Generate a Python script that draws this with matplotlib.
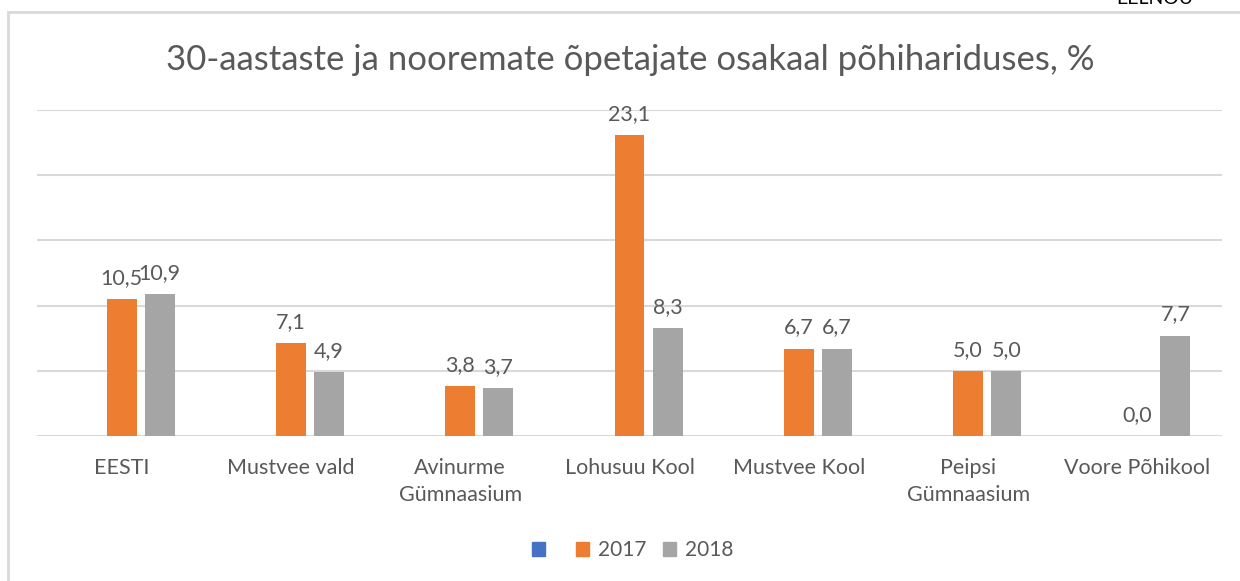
import numpy as np
import matplotlib.pyplot as plt
from matplotlib.patches import Rectangle, Patch

plt.rcParams['font.family'] = ['Lato', 'DejaVu Sans']

categories = ['EESTI', 'Mustvee vald', 'Avinurme\nGümnaasium', 'Lohusuu Kool',
              'Mustvee Kool', 'Peipsi\nGümnaasium', 'Voore Põhikool']
series_names = [' ', '2017', '2018']
vals_2017 = [10.5, 7.1, 3.8, 23.1, 6.7, 5.0, 0.0]
vals_2018 = [10.9, 4.9, 3.7, 8.3, 6.7, 5.0, 7.7]
colors = ['#4472C4', '#ED7D31', '#A5A5A5']
text_col = '#595959'

fig = plt.figure(figsize=(12.4, 5.81), dpi=100)
ax = fig.add_axes([37 / 1240, 1 - 436 / 581, (1222 - 37) / 1240, (436 - 110) / 581])

x = np.arange(len(categories))
w = 0.177
step = 0.225

b1 = ax.bar(x, vals_2017, w, color=colors[1], zorder=3)
b2 = ax.bar(x + step, vals_2018, w, color=colors[2], zorder=3)

for bars, vals in [(b1, vals_2017), (b2, vals_2018)]:
    for r, v in zip(bars, vals):
        ax.text(r.get_x() + r.get_width() / 2, v + 0.85, f'{v:.1f}'.replace('.', ','),
                ha='center', va='bottom', fontsize=15.5, color=text_col, zorder=4)

ax.set_xlim(-0.5, len(categories) - 0.5)
ax.set_ylim(0, 25)
ax.set_yticks([0, 5, 10, 15, 20, 25])
ax.yaxis.grid(True, color='#D9D9D9', linewidth=1.5, zorder=0)
ax.tick_params(axis='y', left=False, labelleft=False)
ax.set_xticks(x)
ax.set_xticklabels(categories, fontsize=15.5, color=text_col, linespacing=1.4)
ax.tick_params(axis='x', length=0, pad=16)
for s in ax.spines.values():
    s.set_visible(False)

fig.text(0.508, 1 - 60 / 581, '30-aastaste ja nooremate õpetajate osakaal põhihariduses, %',
         ha='center', va='center', fontsize=25, color=text_col)

# first series is empty, it only shows in the legend
handles = [Patch(color=c) for c in colors]
leg = fig.legend(handles, series_names, loc='center', bbox_to_anchor=(0.51, 1 - 550 / 581),
                 ncol=3, frameon=False, fontsize=15, handlelength=0.65, handleheight=0.65,
                 columnspacing=0.8, handletextpad=0.4)
for t in leg.get_texts():
    t.set_color(text_col)

# chart border (only left and top inside the image)
fig.patches.append(Rectangle((8 / 1240, -0.1), 1.2, 1 - 12 / 581 + 0.1,
                             transform=fig.transFigure, fill=False,
                             edgecolor='#D9D9D9', linewidth=2))
fig.text(1155 / 1240, 1 - 4 / 581, 'EELNÕU', ha='center', va='baseline',
         fontsize=14, color='black')

fig.savefig('out.png', dpi=100)
